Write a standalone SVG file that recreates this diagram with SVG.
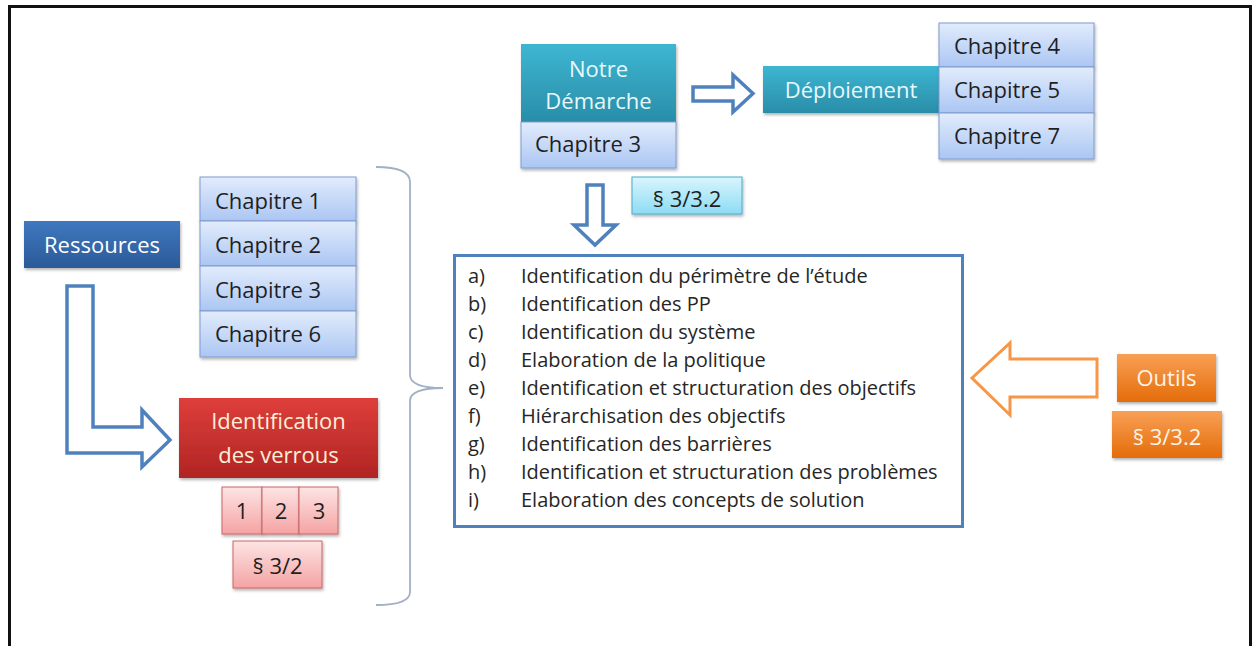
<svg xmlns="http://www.w3.org/2000/svg" width="1256" height="646" viewBox="0 0 1256 646">
<defs>
<linearGradient id="gTeal" x1="0" y1="0" x2="0" y2="1"><stop offset="0" stop-color="#3DB6D2"/><stop offset="1" stop-color="#2A8DA8"/></linearGradient>
<linearGradient id="gChap" x1="0" y1="0" x2="0" y2="1"><stop offset="0" stop-color="#E2ECFC"/><stop offset="1" stop-color="#ABC6F3"/></linearGradient>
<linearGradient id="gBlue" x1="0" y1="0" x2="0" y2="1"><stop offset="0" stop-color="#3F78BF"/><stop offset="1" stop-color="#2B5A98"/></linearGradient>
<linearGradient id="gRed" x1="0" y1="0" x2="0" y2="1"><stop offset="0" stop-color="#DE3E3B"/><stop offset="1" stop-color="#B02523"/></linearGradient>
<linearGradient id="gPink" x1="0" y1="0" x2="0" y2="1"><stop offset="0" stop-color="#FDE4E4"/><stop offset="1" stop-color="#F5A3A3"/></linearGradient>
<linearGradient id="gOrange" x1="0" y1="0" x2="0" y2="1"><stop offset="0" stop-color="#F9A055"/><stop offset="1" stop-color="#E46C0A"/></linearGradient>
<linearGradient id="gCyan" x1="0" y1="0" x2="0" y2="1"><stop offset="0" stop-color="#D9F5FD"/><stop offset="1" stop-color="#8DDCF4"/></linearGradient>
<filter id="sh" x="-10%" y="-10%" width="125%" height="135%"><feDropShadow dx="1" dy="2" stdDeviation="1.5" flood-color="#000" flood-opacity="0.3"/></filter>
</defs>
<style>
text{font-family:"Open Sans","Liberation Sans",sans-serif;}
.bt{font-size:22px;}
.w{fill:#FFFFFF;}
.lt{fill:#E8F8FC;}
.dk{fill:#1F1F1F;}
.chap{fill:url(#gChap);stroke:#7F9BCF;stroke-width:1;}
.pink{fill:url(#gPink);stroke:#C96767;stroke-width:1;}
.orng{fill:url(#gOrange);}
.li{font-size:20px;fill:#262626;}
.harrow{fill:#FFFFFF;stroke:#4F81BD;stroke-width:3.5;stroke-linejoin:miter;}
</style>
<rect x="9.5" y="6.5" width="1241" height="700" fill="#FFFFFF" stroke="#111111" stroke-width="3"/>

<g id="connectors">
<polygon class="harrow" points="67,286 93,286 93,427 142,427 142,410 170,440 142,467 142,453 67,453"/>
<polygon class="harrow" points="693,87 733,87 733,75 753,93.5 733,112 733,101 693,101"/>
<polygon class="harrow" points="587,185 603,185 603,225 616,225 595,245 574,225 587,225"/>
<polygon points="972,378 1010,343 1010,359 1097,359 1097,397 1010,397 1010,415" fill="#FFFFFF" stroke="#F79646" stroke-width="3"/>
<path d="M376,167 Q410,167 410,182 L410,375 Q410,388 443,388 Q410,388 410,401 L410,592 Q410,605 376,605" fill="none" stroke="#A2B0C4" stroke-width="1.8"/>
</g>

<g id="notre-demarche">
<rect x="521" y="44" width="155" height="78" fill="url(#gTeal)" filter="url(#sh)"/>
<text class="bt lt" x="598.5" y="77" text-anchor="middle">Notre</text>
<text class="bt lt" x="598.5" y="109" text-anchor="middle">Démarche</text>
</g>
<g id="chapitre3-top">
<rect class="chap" x="521" y="122" width="155" height="46" filter="url(#sh)"/>
<text class="bt dk" x="535" y="152">Chapitre 3</text>
</g>

<g id="deploiement">
<rect x="763" y="66" width="177" height="47" fill="url(#gTeal)" filter="url(#sh)"/>
<text class="bt lt" x="851" y="98" text-anchor="middle">Déploiement</text>
</g>
<g id="chapitres-457">
<rect class="chap" x="939" y="23" width="155" height="44" filter="url(#sh)"/>
<rect class="chap" x="939" y="67" width="155" height="46" filter="url(#sh)"/>
<rect class="chap" x="939" y="113" width="155" height="46" filter="url(#sh)"/>
<text class="bt dk" x="954" y="54">Chapitre 4</text>
<text class="bt dk" x="954" y="98">Chapitre 5</text>
<text class="bt dk" x="954" y="144">Chapitre 7</text>
</g>

<g id="ref-cyan">
<rect x="632" y="177" width="110" height="37" fill="url(#gCyan)" stroke="#4BACC6" stroke-width="1" filter="url(#sh)"/>
<text class="bt dk" x="687" y="207" text-anchor="middle" font-size="21">§ 3/3.2</text>
</g>

<g id="ressources">
<rect x="24" y="221" width="156" height="47" fill="url(#gBlue)" filter="url(#sh)"/>
<text class="bt w" x="102" y="253" text-anchor="middle">Ressources</text>
</g>

<g id="chapitres-1236">
<rect class="chap" x="200" y="177" width="156" height="44" filter="url(#sh)"/>
<rect class="chap" x="200" y="221" width="156" height="45" filter="url(#sh)"/>
<rect class="chap" x="200" y="266" width="156" height="45" filter="url(#sh)"/>
<rect class="chap" x="200" y="311" width="156" height="46" filter="url(#sh)"/>
<text class="bt dk" x="215" y="209">Chapitre 1</text>
<text class="bt dk" x="215" y="253">Chapitre 2</text>
<text class="bt dk" x="215" y="298">Chapitre 3</text>
<text class="bt dk" x="215" y="342">Chapitre 6</text>
</g>

<g id="verrous">
<rect x="179" y="398" width="199" height="80" fill="url(#gRed)" filter="url(#sh)"/>
<text class="bt" fill="#FCEFD8" x="278.5" y="429" text-anchor="middle">Identification</text>
<text class="bt" fill="#FCEFD8" x="278.5" y="463" text-anchor="middle">des verrous</text>
</g>
<g id="verrous-123">
<rect class="pink" x="222" y="487" width="40" height="47" filter="url(#sh)"/>
<rect class="pink" x="262" y="487" width="37" height="47" filter="url(#sh)"/>
<rect class="pink" x="299" y="487" width="39" height="47" filter="url(#sh)"/>
<text class="bt dk" x="242" y="519" text-anchor="middle">1</text>
<text class="bt dk" x="281" y="519" text-anchor="middle">2</text>
<text class="bt dk" x="319" y="519" text-anchor="middle">3</text>
</g>
<g id="ref-verrous">
<rect class="pink" x="233" y="541" width="89" height="47" filter="url(#sh)"/>
<text class="bt dk" x="277.5" y="574" text-anchor="middle" font-size="21">§ 3/2</text>
</g>

<g id="liste">
<rect x="454.5" y="255.5" width="508" height="271" fill="#FFFFFF" stroke="#4F81BD" stroke-width="3"/>
<text class="li" x="468" y="283">a)</text><text class="li" x="521" y="283">Identification du périmètre de l’étude</text>
<text class="li" x="468" y="311">b)</text><text class="li" x="521" y="311">Identification des PP</text>
<text class="li" x="468" y="339">c)</text><text class="li" x="521" y="339">Identification du système</text>
<text class="li" x="468" y="367">d)</text><text class="li" x="521" y="367">Elaboration de la politique</text>
<text class="li" x="468" y="395">e)</text><text class="li" x="521" y="395">Identification et structuration des objectifs</text>
<text class="li" x="468" y="423">f)</text><text class="li" x="521" y="423">Hiérarchisation des objectifs</text>
<text class="li" x="468" y="451">g)</text><text class="li" x="521" y="451">Identification des barrières</text>
<text class="li" x="468" y="479">h)</text><text class="li" x="521" y="479">Identification et structuration des problèmes</text>
<text class="li" x="468" y="507">i)</text><text class="li" x="521" y="507">Elaboration des concepts de solution</text>
</g>

<g id="outils">
<rect class="orng" x="1117" y="354" width="99" height="48" filter="url(#sh)"/>
<text class="bt" fill="#FFF4E8" x="1166.5" y="386" text-anchor="middle">Outils</text>
</g>
<g id="ref-outils">
<rect class="orng" x="1112" y="411" width="110" height="47" filter="url(#sh)"/>
<text class="bt" fill="#FFF4E8" x="1167" y="445" text-anchor="middle" font-size="21">§ 3/3.2</text>
</g>
</svg>
